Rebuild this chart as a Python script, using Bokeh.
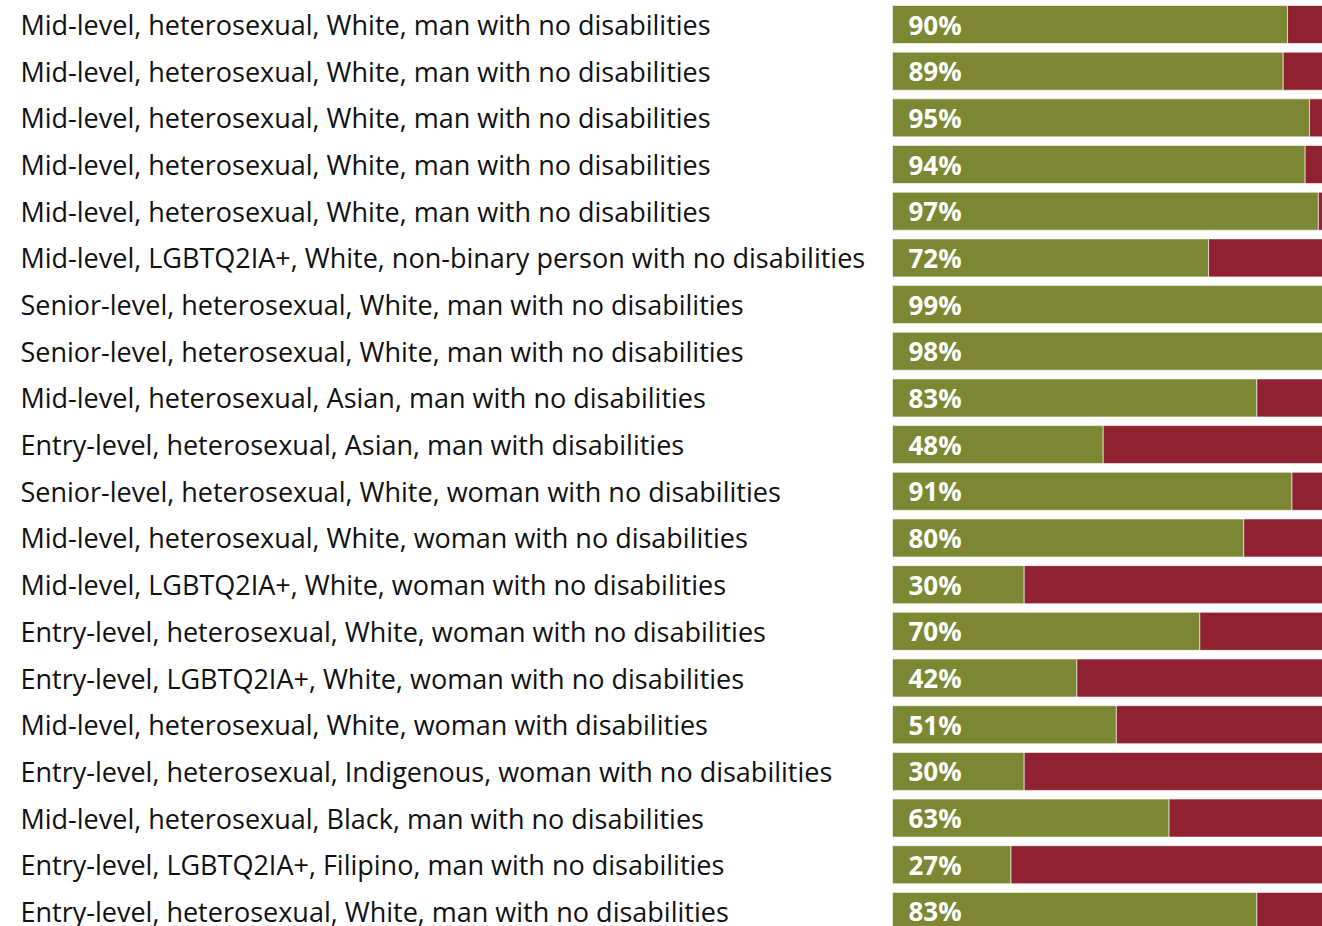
from bokeh.plotting import figure
from bokeh.models import ColumnDataSource, Range1d
from bokeh.core.properties import value
from bokeh.embed import file_html
from bokeh.resources import INLINE

labels = [
    "Mid-level, heterosexual, White, man with no disabilities",
    "Mid-level, heterosexual, White, man with no disabilities",
    "Mid-level, heterosexual, White, man with no disabilities",
    "Mid-level, heterosexual, White, man with no disabilities",
    "Mid-level, heterosexual, White, man with no disabilities",
    "Mid-level, LGBTQ2IA+, White, non-binary person with no disabilities",
    "Senior-level, heterosexual, White, man with no disabilities",
    "Senior-level, heterosexual, White, man with no disabilities",
    "Mid-level, heterosexual, Asian, man with no disabilities",
    "Entry-level, heterosexual, Asian, man with disabilities",
    "Senior-level, heterosexual, White, woman with no disabilities",
    "Mid-level, heterosexual, White, woman with no disabilities",
    "Mid-level, LGBTQ2IA+, White, woman with no disabilities",
    "Entry-level, heterosexual, White, woman with no disabilities",
    "Entry-level, LGBTQ2IA+, White, woman with no disabilities",
    "Mid-level, heterosexual, White, woman with disabilities",
    "Entry-level, heterosexual, Indigenous, woman with no disabilities",
    "Mid-level, heterosexual, Black, man with no disabilities",
    "Entry-level, LGBTQ2IA+, Filipino, man with no disabilities",
    "Entry-level, heterosexual, White, man with no disabilities",
]
positive = [90, 89, 95, 94, 97, 72, 99, 98, 83, 48, 91, 80, 30, 70, 42, 51, 30, 63, 27, 83]
negative = [100 - v for v in positive]

GREEN = "#7b8732"
RED = "#8f2131"

rows = list(range(len(labels)))
src = ColumnDataSource(dict(
    y=rows,
    label=labels,
    pos=positive,
    neg_left=positive,
    neg_right=[p + n for p, n in zip(positive, negative)],
    pct=[f"{v}%" for v in positive],
    zero=[0] * len(rows),
))

W, H = 1322, 926
px_per_pct = 4.39
bar0 = 892
x_start = -bar0 / px_per_pct
x_end = (W - bar0) / px_per_pct
row_px = 46.68
y_top = -24 / row_px
y_bot = (H - 24) / row_px

p = figure(width=W, height=H, output_backend="svg", toolbar_location=None,
           x_range=Range1d(x_start, x_end), y_range=Range1d(y_bot, y_top),
           min_border=0, min_border_left=0, min_border_right=0,
           min_border_top=0, min_border_bottom=0)
p.axis.visible = False
p.grid.visible = False
p.outline_line_color = None
p.background_fill_color = "white"
p.border_fill_color = "white"

h = 38 / row_px
p.hbar(y="y", left="zero", right="pos", height=h, source=src,
       fill_color=GREEN, line_color="white", line_width=1, line_alpha=0.6)
p.hbar(y="y", left="neg_left", right="neg_right", height=h, source=src,
       fill_color=RED, line_color="white", line_width=1, line_alpha=0.6)

src.data["labx"] = [x_start] * len(rows)
p.text(x="labx", y="y", text="label", source=src, x_offset=20,
       text_font=value("Open Sans"), text_font_size="27px", text_color="#111111",
       text_baseline="middle", text_align="left")
p.text(x="zero", y="y", text="pct", source=src, x_offset=16,
       text_font=value("Open Sans"), text_font_size="26px", text_font_style="bold",
       text_color="white", text_baseline="middle", text_align="left")

open("out.html", "w").write(file_html(p, INLINE))
